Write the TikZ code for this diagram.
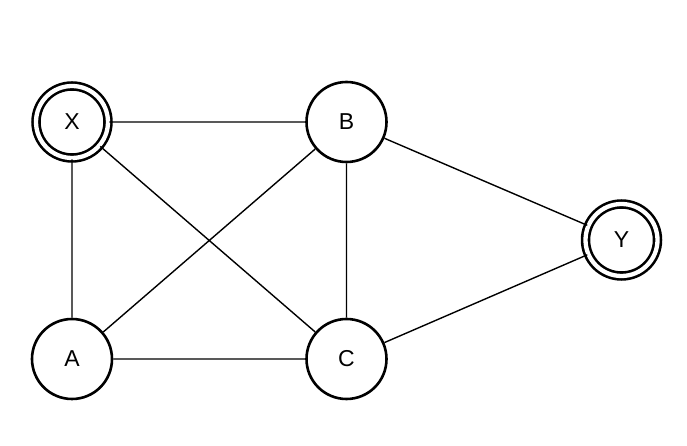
\documentclass[tikz,border=0pt]{standalone}
\usepackage{fontspec}
\setmainfont{Liberation Sans}

\begin{document}
\begin{tikzpicture}[x=1pt,y=1pt,
          vertex/.style={circle,draw,line width=2.6pt,minimum size=80pt,inner sep=0pt,font=\fontsize{23}{27}\selectfont},
          final/.style={vertex,double,double distance=4.3pt,minimum size=72pt},
          every path/.style={line width=1.4pt}]
          \useasboundingbox(0,0)rectangle(687,446);
          \node[final](X)at(72,324){X};
          \node[vertex](B)at(346.5,324){B};
          \node[vertex](A)at(72,87){A};
          \node[vertex](C)at(346.5,87){C};
          \node[final](Y)at(621.5,206){Y};
          \draw(X)--(B) (X)--(A) (X)--(C) (A)--(B) (A)--(C) (B)--(C)
            (B)--(Y) (C)--(Y);
        \end{tikzpicture}
\end{document}
